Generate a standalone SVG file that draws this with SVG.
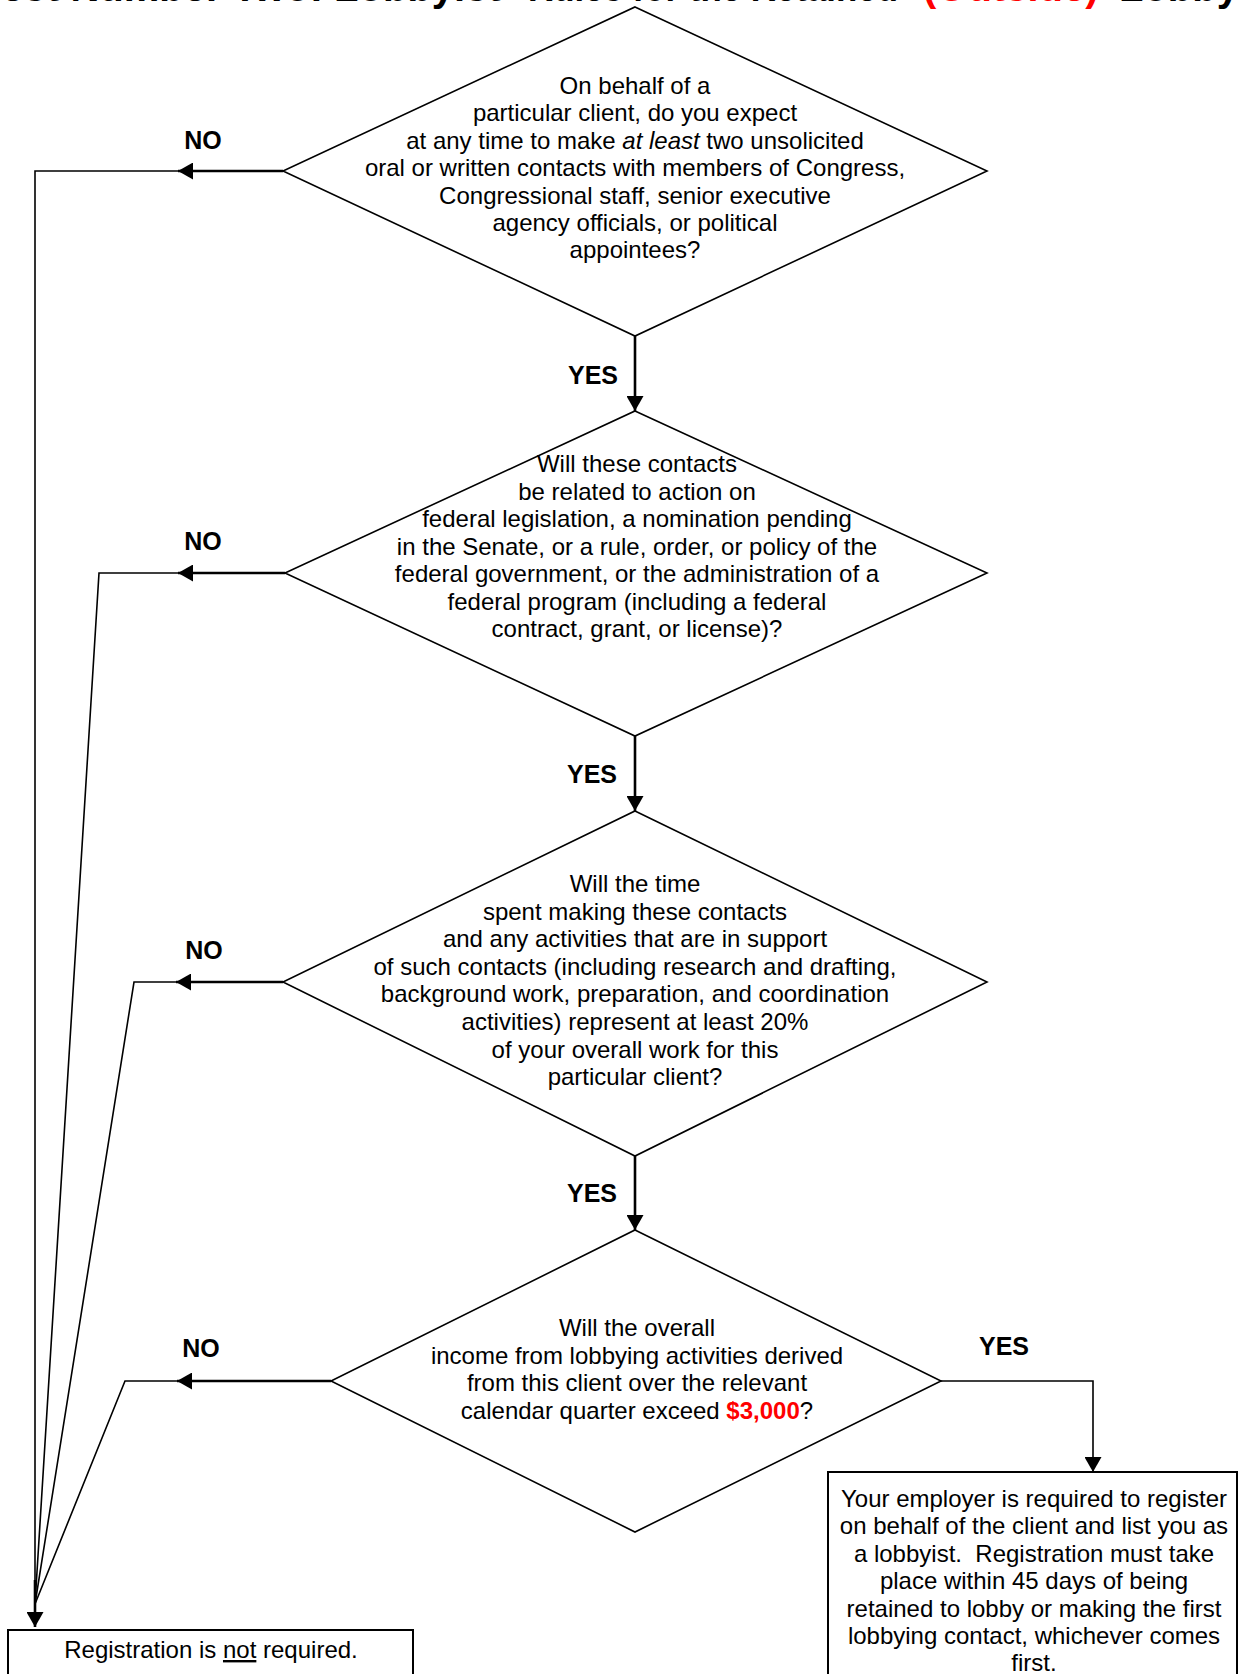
<svg xmlns="http://www.w3.org/2000/svg" width="1238" height="1674" viewBox="0 0 1238 1674">
<style>
.bg{fill:#fff}
.d{fill:#fff;stroke:#000;stroke-width:1.6}
.b{fill:#fff;stroke:#000;stroke-width:2}
.t{font-family:"Liberation Sans",Arial,sans-serif;font-size:24px;fill:#000;text-anchor:middle}
.lb{font-family:"Liberation Sans",Arial,sans-serif;font-size:25px;font-weight:bold;fill:#000;text-anchor:middle}
.ttl{font-family:"Liberation Sans",Arial,sans-serif;font-size:40px;font-weight:bold;fill:#000}
.red{fill:#ff0000;font-weight:bold}
.thick{fill:none;stroke:#000;stroke-width:2.6}
.thin{fill:none;stroke:#000;stroke-width:1.6}
</style>
<defs>
<marker id="arr" markerUnits="userSpaceOnUse" markerWidth="16" markerHeight="17" refX="15" refY="8.5" orient="auto">
<path d="M0,0 L15,8.5 L0,17 Z" fill="#000"/>
</marker>
</defs>
<rect class="bg" x="0" y="0" width="1238" height="1674"/>

<g id="title">
<text class="ttl" x="-20" y="0.5">Test Number Two: Lobbyist <tspan x="528" textLength="370" lengthAdjust="spacingAndGlyphs">Rules for the Retained</tspan> <tspan class="red" x="923">(Outside)</tspan> <tspan x="1119">Lobbyist</tspan></text>
</g>

<g id="connectors">
<line class="thick" x1="635" y1="336" x2="635" y2="411" marker-end="url(#arr)"/>
<line class="thick" x1="635" y1="736" x2="635" y2="811" marker-end="url(#arr)"/>
<line class="thick" x1="635" y1="1156" x2="635" y2="1230" marker-end="url(#arr)"/>
<polyline class="thin" points="941,1381 1093,1381 1093,1472" marker-end="url(#arr)"/>

<line class="thick" x1="283" y1="171" x2="178" y2="171" marker-end="url(#arr)"/>
<line class="thick" x1="285" y1="573" x2="178" y2="573" marker-end="url(#arr)"/>
<line class="thick" x1="283" y1="982" x2="176" y2="982" marker-end="url(#arr)"/>
<line class="thick" x1="331" y1="1381" x2="177" y2="1381" marker-end="url(#arr)"/>

<polyline class="thin" points="178,171 35,171 35,1610"/>
<polyline class="thin" points="178,573 99,573 35,1604"/>
<polyline class="thin" points="176,982 134,982 35,1604"/>
<polyline class="thin" points="177,1381 125,1381 35,1604"/>
<line class="thick" x1="35" y1="1580" x2="35" y2="1627" marker-end="url(#arr)"/>
</g>

<g id="labels">
<text class="lb" x="203" y="149">NO</text>
<text class="lb" x="203" y="550">NO</text>
<text class="lb" x="204" y="959">NO</text>
<text class="lb" x="201" y="1357">NO</text>
<text class="lb" x="593" y="384">YES</text>
<text class="lb" x="592" y="783">YES</text>
<text class="lb" x="592" y="1202">YES</text>
<text class="lb" x="1004" y="1355">YES</text>
</g>

<g id="q1">
<polygon class="d" points="635,7 987,171 635,336 283,171"/>
<text class="t" x="635" y="94">On behalf of a</text>
<text class="t" x="635" y="121.4">particular client, do you expect</text>
<text class="t" x="635" y="148.8">at any time to make <tspan font-style="italic">at least</tspan> two unsolicited</text>
<text class="t" x="635" y="176.2">oral or written contacts with members of Congress,</text>
<text class="t" x="635" y="203.6">Congressional staff, senior executive</text>
<text class="t" x="635" y="231">agency officials, or political</text>
<text class="t" x="635" y="258.4">appointees?</text>
</g>

<g id="q2">
<polygon class="d" points="635,411 987,573 635,736 285,573"/>
<text class="t" x="637" y="472">Will these contacts</text>
<text class="t" x="637" y="499.5">be related to action on</text>
<text class="t" x="637" y="527">federal legislation, a nomination pending</text>
<text class="t" x="637" y="554.5">in the Senate, or a rule, order, or policy of the</text>
<text class="t" x="637" y="582">federal government, or the administration of a</text>
<text class="t" x="637" y="609.5">federal program (including a federal</text>
<text class="t" x="637" y="637">contract, grant, or license)?</text>
</g>

<g id="q3">
<polygon class="d" points="635,811 987,982 635,1156 283,982"/>
<text class="t" x="635" y="892">Will the time</text>
<text class="t" x="635" y="919.6">spent making these contacts</text>
<text class="t" x="635" y="947.2">and any activities that are in support</text>
<text class="t" x="635" y="974.8">of such contacts (including research and drafting,</text>
<text class="t" x="635" y="1002.4">background work, preparation, and coordination</text>
<text class="t" x="635" y="1030">activities) represent at least 20%</text>
<text class="t" x="635" y="1057.6">of your overall work for this</text>
<text class="t" x="635" y="1085.2">particular client?</text>
</g>

<g id="q4">
<polygon class="d" points="635,1230 941,1381 635,1532 331,1381"/>
<text class="t" x="637" y="1336">Will the overall</text>
<text class="t" x="637" y="1363.6">income from lobbying activities derived</text>
<text class="t" x="637" y="1391.2">from this client over the relevant</text>
<text class="t" x="637" y="1418.8">calendar quarter exceed <tspan class="red">$3,000</tspan>?</text>
</g>

<g id="register">
<rect class="b" x="828" y="1472" width="409" height="240"/>
<text class="t" x="1034" y="1507">Your employer is required to register</text>
<text class="t" x="1034" y="1534.4">on behalf of the client and list you as</text>
<text class="t" x="1034" y="1561.8" xml:space="preserve">a lobbyist.  Registration must take</text>
<text class="t" x="1034" y="1589.2">place within 45 days of being</text>
<text class="t" x="1034" y="1616.6">retained to lobby or making the first</text>
<text class="t" x="1034" y="1644">lobbying contact, whichever comes</text>
<text class="t" x="1034" y="1671.4">first.</text>
</g>

<g id="notrequired">
<rect class="b" x="8" y="1630" width="405" height="80"/>
<text class="t" x="211" y="1658">Registration is <tspan text-decoration="underline">not</tspan> required.</text>
</g>
</svg>
